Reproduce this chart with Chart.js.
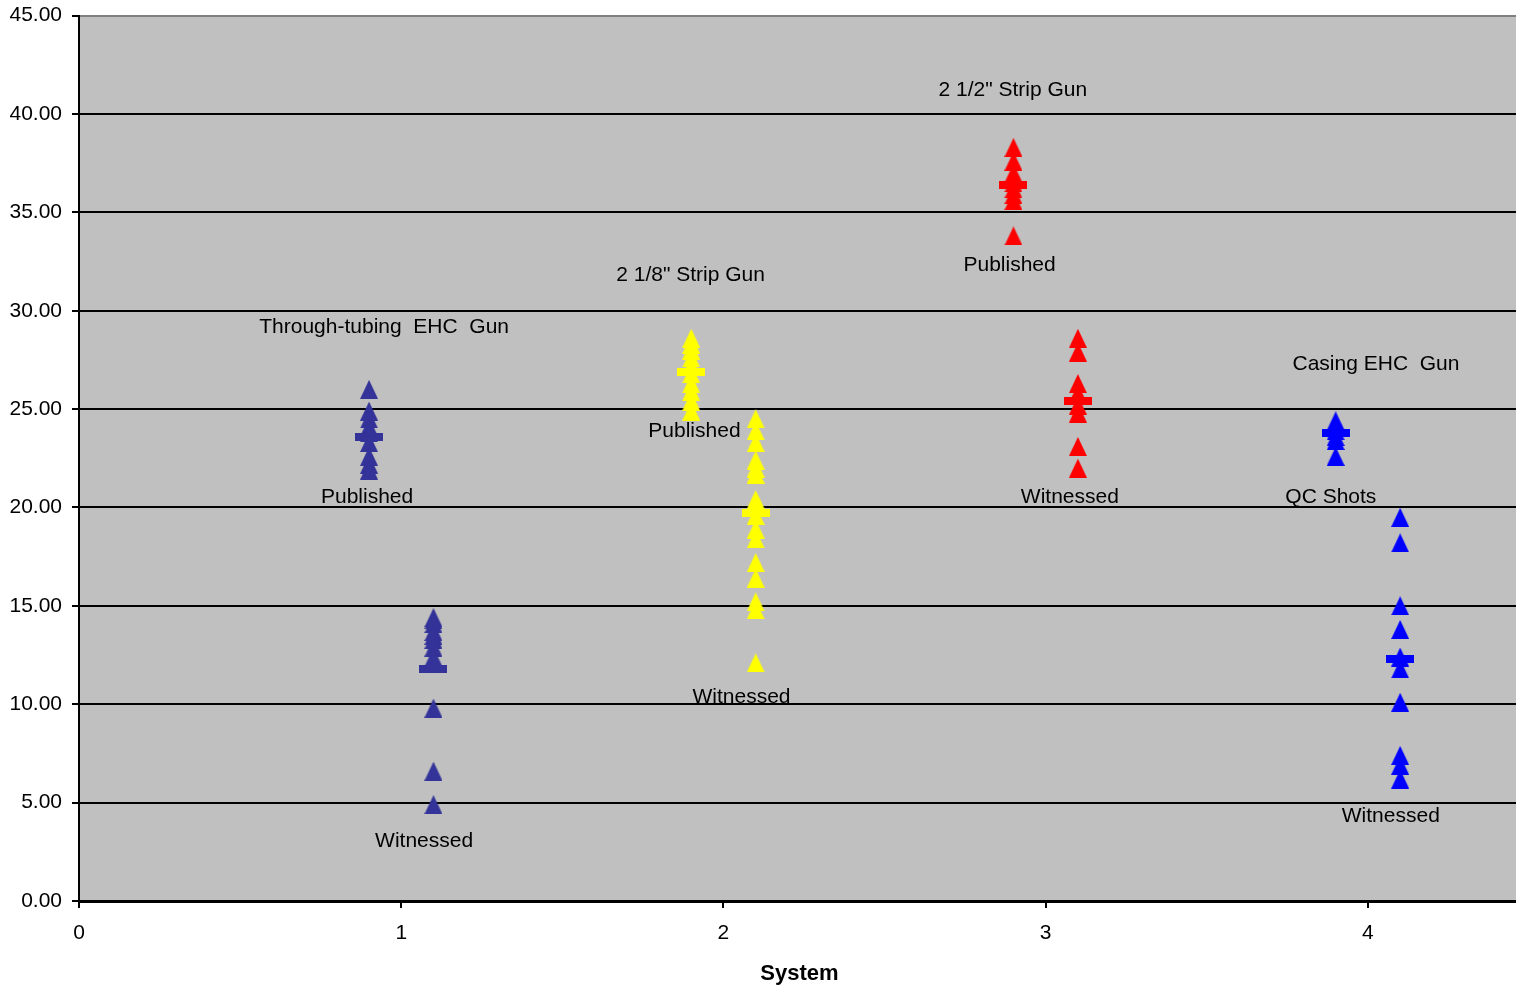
<!DOCTYPE html>
<html>
<head>
<meta charset="utf-8">
<title>Penetration by System</title>
<script src="https://cdn.jsdelivr.net/npm/chart.js@4/dist/chart.umd.min.js"></script>
<style>
  html, body { margin: 0; padding: 0; background: #ffffff; overflow: hidden; }
  #chart { position: absolute; left: 0; top: -7px; }
</style>
</head>
<body>
<canvas id="chart" width="1530" height="994"></canvas>
<script>
// System positions (published shots sit just left of each system, witnessed just right)
const systems = [1, 2, 3, 4];
const publishedX = [0.9, 1.9, 2.9, 3.9];
const witnessedX = [1.1, 2.1, 3.1, 4.1];

// Individual shot values
const tubingPublished = [26.0, 24.9, 24.5, 24.1, 23.8, 23.3, 22.6, 22.2, 21.9];
const tubingWitnessed = [14.4, 14.3, 14.1, 13.7, 13.5, 13.3, 12.9, 12.4, 9.8, 6.6, 4.9];
const strip218Published = [28.6, 28.3, 28.0, 27.6, 27.2, 26.8, 26.3, 25.9, 25.4, 24.9];
const strip218Witnessed = [24.5, 23.9, 23.3, 22.4, 22.0, 21.7, 20.4, 19.6, 18.9, 18.4, 17.2, 16.4, 15.2, 14.8, 12.1];
const strip212Published = [38.3, 37.6, 37.0, 36.5, 36.2, 35.9, 35.6, 33.8];
const strip212Witnessed = [28.6, 27.9, 26.3, 25.8, 25.2, 24.8, 23.1, 22.0];
const casingQcShots = [24.4, 24.1, 23.9, 23.6, 23.4, 22.6];
const casingWitnessed = [19.5, 18.2, 15.0, 13.8, 12.4, 11.8, 10.1, 7.4, 6.9, 6.2];

// Averages shown with the dash markers
const publishedMean = [23.6, 26.9, 36.4, 23.8];
const witnessedMean = [11.8, 19.7, 25.4, 12.3];

const systemColors = ['#333399', '#FFFF00', '#FF0000', '#0000FF'];

// Axis ticks
const yTicks = [0, 5, 10, 15, 20, 25, 30, 35, 40, 45];
const xTicks = [0, 1, 2, 3, 4];

// Text placed on the plot (x, y in data units)
const noteTexts = ['Through-tubing  EHC  Gun', 'Published', 'Witnessed',
                   '2 1/8" Strip Gun', 'Published', 'Witnessed',
                   '2 1/2" Strip Gun', 'Published', 'Witnessed',
                   'Casing EHC  Gun', 'QC Shots', 'Witnessed'];
const noteX = [0.947, 0.894, 1.071, 1.898, 1.910, 2.056, 2.898, 2.888, 3.075, 4.025, 3.885, 4.071];
const noteY = [29.15, 20.5, 3.05, 31.8, 23.9, 10.35, 41.2, 32.3, 20.5, 27.3, 20.5, 4.3];

const FONT = '"Liberation Sans", Arial, sans-serif';

// Marker sprites
function triangleSprite(color) {
  const c = document.createElement('canvas');
  c.width = 18; c.height = 19;
  const g = c.getContext('2d');
  g.fillStyle = color;
  g.beginPath();
  g.moveTo(9, 0);
  g.lineTo(18, 19);
  g.lineTo(0, 19);
  g.closePath();
  g.fill();
  return c;
}
function dashSprite(color) {
  const c = document.createElement('canvas');
  c.width = 28; c.height = 8;
  const g = c.getContext('2d');
  g.fillStyle = color;
  g.fillRect(0, 0, 28, 8);
  return c;
}

const shotGroups = [
  [tubingPublished, tubingWitnessed],
  [strip218Published, strip218Witnessed],
  [strip212Published, strip212Witnessed],
  [casingQcShots, casingWitnessed]
];

const datasets = [];
systems.forEach((s, i) => {
  const tri = triangleSprite(systemColors[i]);
  const dash = dashSprite(systemColors[i]);
  datasets.push({
    data: shotGroups[i][0].map(v => ({ x: publishedX[i], y: v })),
    pointStyle: tri, backgroundColor: systemColors[i], borderColor: systemColors[i]
  });
  datasets.push({
    data: shotGroups[i][1].map(v => ({ x: witnessedX[i], y: v })),
    pointStyle: tri, backgroundColor: systemColors[i], borderColor: systemColors[i]
  });
  datasets.push({
    data: [{ x: publishedX[i], y: publishedMean[i] }, { x: witnessedX[i], y: witnessedMean[i] }],
    pointStyle: dash, backgroundColor: systemColors[i], borderColor: systemColors[i]
  });
});

const plotBackground = {
  id: 'plotBackground',
  beforeDraw(chart) {
    const a = chart.chartArea;
    const ctx = chart.ctx;
    ctx.save();
    ctx.fillStyle = '#C0C0C0';
    ctx.fillRect(a.left, a.top, a.right - a.left, a.bottom - a.top);
    ctx.restore();
  }
};

const plotNotes = {
  id: 'plotNotes',
  afterDatasetsDraw(chart) {
    const ctx = chart.ctx;
    const xs = chart.scales.x, ys = chart.scales.y;
    ctx.save();
    ctx.fillStyle = '#000000';
    ctx.font = '21px ' + FONT;
    ctx.textAlign = 'center';
    ctx.textBaseline = 'middle';
    noteTexts.forEach((t, i) => {
      ctx.fillText(t, xs.getPixelForValue(noteX[i]), ys.getPixelForValue(noteY[i]));
    });
    ctx.restore();
  }
};

new Chart(document.getElementById('chart'), {
  type: 'scatter',
  data: { datasets },
  plugins: [plotBackground, plotNotes],
  options: {
    responsive: false,
    maintainAspectRatio: false,
    animation: false,
    layout: { padding: { top: 15, right: 2, bottom: 0, left: 0 } },
    plugins: { legend: { display: false }, tooltip: { enabled: false } },
    elements: { point: { radius: 9, hoverRadius: 9 } },
    scales: {
      x: {
        type: 'linear',
        min: 0, max: 4.472,
        afterFit(scale) { scale.height = 86; },
        afterBuildTicks(scale) { scale.ticks = xTicks.map(v => ({ value: v })); },
        ticks: {
          color: '#000000',
          font: { family: FONT, size: 21 },
          padding: 13,
          callback: v => String(v)
        },
        grid: { drawOnChartArea: false, drawTicks: true, tickLength: 7, tickColor: '#000000', lineWidth: 2 },
        border: { display: true, color: '#000000', width: 3 },
        title: {
          display: true, text: 'System', color: '#000000',
          font: { family: FONT, size: 22, weight: 'bold' },
          padding: { top: 0, bottom: 0 }
        }
      },
      y: {
        type: 'linear',
        min: 0, max: 45,
        afterFit(scale) { scale.width = 79; },
        afterBuildTicks(scale) { scale.ticks = yTicks.map(v => ({ value: v })); },
        ticks: {
          color: '#000000',
          font: { family: FONT, size: 21 },
          padding: 10,
          callback: v => Number(v).toFixed(2)
        },
        grid: {
          drawTicks: true, tickLength: 7,
          color: c => (c.tick && c.tick.value === 45 ? '#808080' : '#000000'),
          tickColor: '#000000',
          lineWidth: 2
        },
        border: { display: true, color: '#000000', width: 2 }
      }
    }
  }
});
</script>
</body>
</html>
